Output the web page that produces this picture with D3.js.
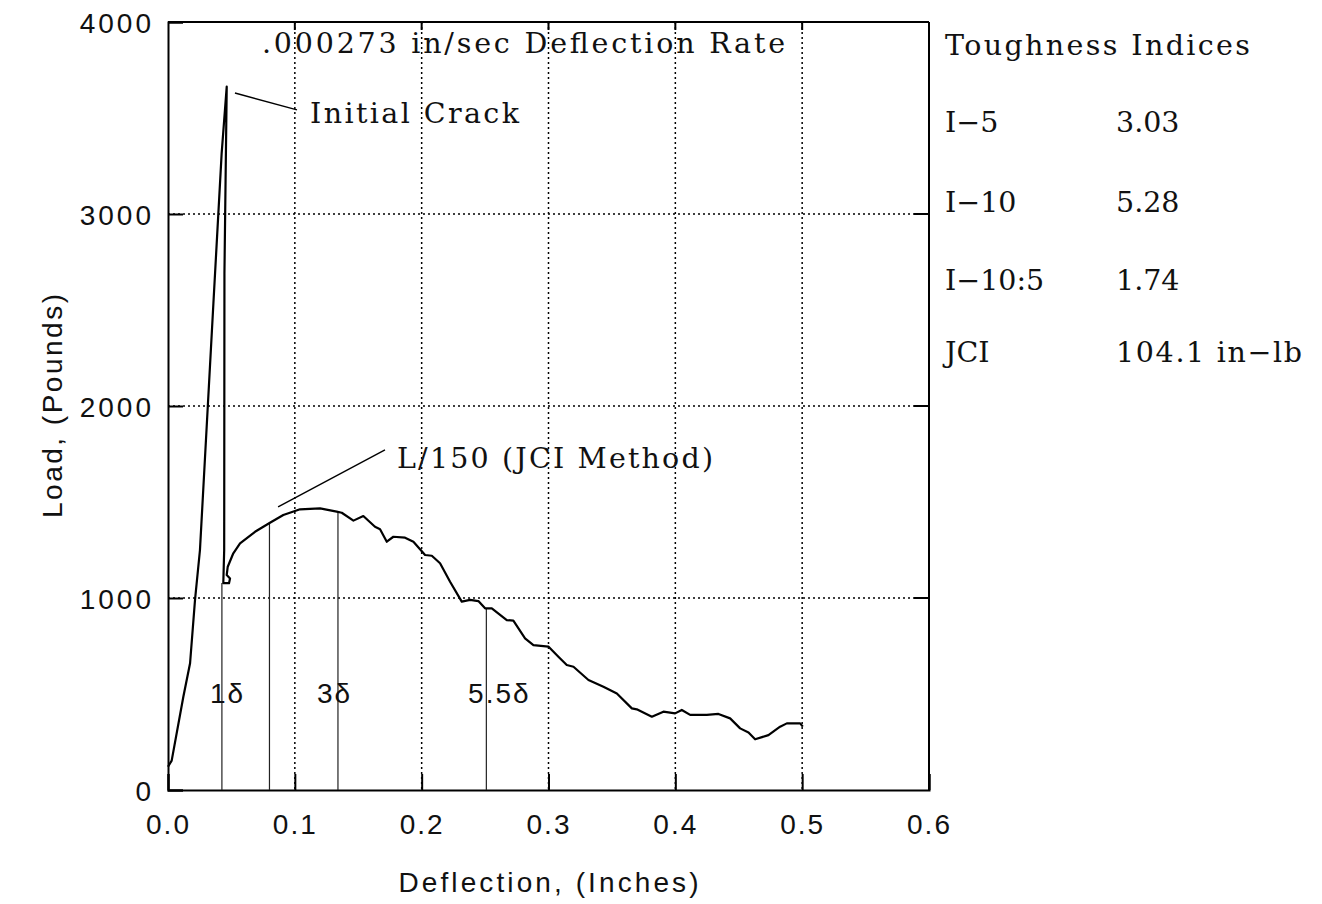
<!DOCTYPE html>
<html>
<head>
<meta charset="utf-8">
<script src="https://cdn.jsdelivr.net/npm/d3@7"></script>
<style>
  body { margin: 0; background: #fff; }
  svg { display: block; }
</style>
</head>
<body>
<div id="chart"></div>
<script>
// load-deflection curve
const deflection = [0.0000, 0.0029, 0.0121, 0.0174, 0.0213, 0.0252, 0.0358, 0.0397, 0.0423, 0.0463,
  0.0445, 0.0443, 0.0436, 0.0481, 0.0489, 0.0463, 0.0471, 0.0515, 0.0568, 0.0686,
  0.0804, 0.0909, 0.1041, 0.1199, 0.1330, 0.1370, 0.1462, 0.1540, 0.1632, 0.1672,
  0.1725, 0.1777, 0.1869, 0.1935, 0.2027, 0.2080, 0.2145, 0.2224, 0.2316, 0.2382,
  0.2447, 0.2500, 0.2553, 0.2671, 0.2723, 0.2815, 0.2881, 0.2999, 0.3078, 0.3144,
  0.3197, 0.3315, 0.3433, 0.3539, 0.3657, 0.3696, 0.3815, 0.3906, 0.3998, 0.4051,
  0.4117, 0.4248, 0.4340, 0.4432, 0.4511, 0.4577, 0.4629, 0.4734, 0.4826, 0.4879,
  0.4984, 0.5005];
const load = [121, 153, 486, 660, 990, 1250, 2535, 3003, 3316, 3663,
  2690, 1250, 1077, 1077, 1102, 1120, 1163, 1233, 1285, 1345,
  1392, 1432, 1462, 1467, 1450, 1444, 1403, 1427, 1371, 1358,
  1293, 1319, 1314, 1293, 1224, 1220, 1181, 1085, 981, 990,
  984, 946, 946, 885, 882, 790, 755, 747, 694, 651,
  642, 573, 538, 503, 425, 420, 382, 408, 399, 417,
  391, 391, 396, 373, 321, 299, 264, 286, 330, 347,
  347, 330];

// deflection markers (1δ, L/150, 3δ, 5.5δ)
const markerX = [0.0425, 0.080, 0.134, 0.251];
const markerLoad = [1078, 1392, 1446, 948];
const markerLabel = ["1δ", "", "3δ", "5.5δ"];
const markerLabelX = [0.0331, null, 0.1175, 0.2366];

const xTicks = [0.0, 0.1, 0.2, 0.3, 0.4, 0.5, 0.6];
const yTicks = [0, 1000, 2000, 3000, 4000];

const indexNames = ["I−5", "I−10", "I−10:5", "JCI"];
const indexValues = ["3.03", "5.28", "1.74", "104.1 in−lb"];

const width = 1322, height = 904;
const margin = { left: 168, top: 22 };
const innerW = 761, innerH = 768;

const svg = d3.select("#chart").append("svg")
  .attr("width", width)
  .attr("height", height)
  .style("background", "#fff");

const g = svg.append("g")
  .attr("transform", "translate(" + margin.left + "," + margin.top + ")");

const x = d3.scaleLinear().domain([0, 0.6]).range([0, innerW]);
const y = d3.scaleLinear().domain([0, 4000]).range([innerH, 0]);

const sans = "'Liberation Sans', Arial, sans-serif";
const serif = "'DejaVu Serif', serif";

// dotted grid
g.append("g").selectAll("line.vg")
  .data(xTicks.slice(1, -1))
  .join("line")
  .attr("x1", d => x(d)).attr("x2", d => x(d))
  .attr("y1", 0).attr("y2", innerH)
  .attr("stroke", "#000").attr("stroke-width", 1.5)
  .attr("stroke-dasharray", "2,3");

g.append("g").selectAll("line.hg")
  .data(yTicks.slice(1, -1))
  .join("line")
  .attr("x1", 0).attr("x2", innerW)
  .attr("y1", d => y(d)).attr("y2", d => y(d))
  .attr("stroke", "#000").attr("stroke-width", 1.5)
  .attr("stroke-dasharray", "2,3");

// axes
const xaxis = d3.axisBottom(x).tickValues(xTicks).tickFormat(d3.format(".1f"))
  .tickSize(-16).tickPadding(24);
const gx = g.append("g")
  .attr("transform", "translate(0," + innerH + ")")
  .call(xaxis);
gx.selectAll("text")
  .attr("dy", "0.71em")
  .style("font-family", sans).style("font-size", "28px")
  .style("letter-spacing", "2px").attr("fill", "#111");

const yaxis = d3.axisLeft(y).tickValues(yTicks).tickFormat(d3.format("d"))
  .tickSize(-15).tickPadding(14);
const gy = g.append("g").call(yaxis);
gy.selectAll("text")
  .attr("dy", "0.38em")
  .style("font-family", sans).style("font-size", "28px")
  .style("letter-spacing", "3px").attr("fill", "#111");

[gx, gy].forEach(a => {
  a.select(".domain").attr("stroke", "#000").attr("stroke-width", 2);
  a.selectAll(".tick line").attr("stroke", "#000").attr("stroke-width", 2);
});

// top and right frame with inward ticks
g.append("line").attr("x1", 0).attr("x2", innerW).attr("y1", 0).attr("y2", 0)
  .attr("stroke", "#000").attr("stroke-width", 2);
g.append("line").attr("x1", innerW).attr("x2", innerW).attr("y1", 0).attr("y2", innerH)
  .attr("stroke", "#000").attr("stroke-width", 2);
g.append("g").selectAll("line")
  .data(xTicks.slice(1, -1))
  .join("line")
  .attr("x1", d => x(d)).attr("x2", d => x(d))
  .attr("y1", 0).attr("y2", 8)
  .attr("stroke", "#000").attr("stroke-width", 2);
g.append("g").selectAll("line")
  .data(yTicks.slice(1, -1))
  .join("line")
  .attr("x1", innerW - 15).attr("x2", innerW)
  .attr("y1", d => y(d)).attr("y2", d => y(d))
  .attr("stroke", "#000").attr("stroke-width", 2);

// marker lines
g.append("g").selectAll("line")
  .data(markerX)
  .join("line")
  .attr("x1", d => x(d)).attr("x2", d => x(d))
  .attr("y1", innerH).attr("y2", (d, i) => y(markerLoad[i]))
  .attr("stroke", "#222").attr("stroke-width", 1.2);

g.append("g").selectAll("text")
  .data(markerLabel.map((t, i) => ({ t, lx: markerLabelX[i] })).filter(d => d.t))
  .join("text")
  .attr("x", d => x(d.lx))
  .attr("y", y(455))
  .text(d => d.t)
  .style("font-family", sans).style("font-size", "28px")
  .style("letter-spacing", "2px").attr("fill", "#111");

// curve
const pts = deflection.map((d, i) => [d, load[i]]);
g.append("path")
  .datum(pts)
  .attr("fill", "none")
  .attr("stroke", "#000")
  .attr("stroke-width", 2.2)
  .attr("stroke-linejoin", "round")
  .attr("d", d3.line().x(d => x(d[0])).y(d => y(d[1])));

// leader lines
const leaders = [
  [[0.0528, 3630], [0.1017, 3542]],
  [[0.0868, 1474], [0.1711, 1771]]
];
g.append("g").selectAll("line")
  .data(leaders)
  .join("line")
  .attr("x1", d => x(d[0][0])).attr("y1", d => y(d[0][1]))
  .attr("x2", d => x(d[1][0])).attr("y2", d => y(d[1][1]))
  .attr("stroke", "#000").attr("stroke-width", 1.4);

// serif annotations
function serifText(txt, px, py, len) {
  const t = svg.append("text")
    .attr("x", px).attr("y", py)
    .text(txt)
    .style("font-family", serif).style("font-size", "28.5px")
    .attr("fill", "#111");
  if (len) t.attr("textLength", len).attr("lengthAdjust", "spacing");
  return t;
}
serifText(".000273 in/sec Deflection Rate", 262, 53, 523);
serifText("Initial Crack", 310, 123, 209);
serifText("L/150 (JCI Method)", 397, 468, 316);

// toughness indices table
serifText("Toughness Indices", 945, 55, 305);
const rowY = [132, 212, 290, 362];
indexNames.forEach((n, i) => {
  serifText(n, 945, rowY[i]);
  serifText(indexValues[i], 1116, rowY[i], i === 3 ? 186 : null);
});

// axis titles
svg.append("text")
  .attr("x", margin.left + innerW / 2).attr("y", 892)
  .attr("text-anchor", "middle")
  .attr("textLength", 300).attr("lengthAdjust", "spacing")
  .text("Deflection, (Inches)")
  .style("font-family", sans).style("font-size", "28px").attr("fill", "#111");

svg.append("text")
  .attr("transform", "translate(62," + (margin.top + innerH / 2) + ") rotate(-90)")
  .attr("text-anchor", "middle")
  .attr("textLength", 224).attr("lengthAdjust", "spacing")
  .text("Load, (Pounds)")
  .style("font-family", sans).style("font-size", "28px").attr("fill", "#111");
</script>
</body>
</html>
